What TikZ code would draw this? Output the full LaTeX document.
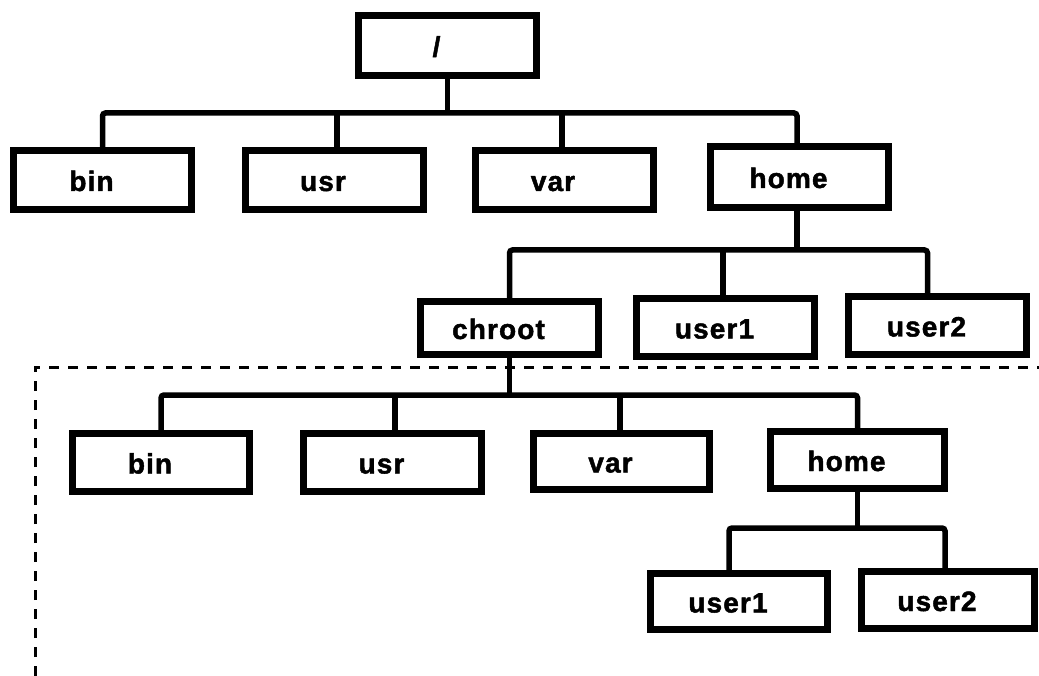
\documentclass[tikz,border=0pt]{standalone}
\usepackage{fontspec}
\setmainfont{Liberation Sans}[LetterSpace=4, BoldFeatures={FakeBold=1.6}]
\usetikzlibrary{calc}
% label text sits a little left of the box centre
\newcommand\dirlabel[1]{#1\kern22pt}
\begin{document}
\begin{tikzpicture}[x=1pt,y=-1pt,
  dirbox/.style={draw, line width=7pt, inner sep=0pt,
    minimum width=178pt, minimum height=59pt,
    font=\bfseries\fontsize{28}{30}\selectfont,
    text height=22pt, text depth=0pt},
  conn/.style={line width=5.5pt, rounded corners=3pt},
  frame/.style={line width=3pt, dash pattern=on 10pt off 9pt}]
\useasboundingbox (0,0) rectangle (1039,676);

% bar heights of the four branchings
\coordinate (bar1) at (0,113);
\coordinate (bar2) at (0,250);
\coordinate (bar3) at (0,395);
\coordinate (bar4) at (0,528);

% top level
\node[dirbox, minimum height=60pt] (root) at (447.5,45.5) {\dirlabel{/}};
\node[dirbox] (bin)  at (102.5,180) {\dirlabel{bin}};
\node[dirbox] (usr)  at (334,180)   {\dirlabel{usr}};
\node[dirbox] (var)  at (564,180)   {\dirlabel{var}};
\node[dirbox, minimum height=61pt] (home) at (799.5,177) {\dirlabel{home}};

% under /home
\node[dirbox, minimum height=53pt] (chroot) at (509.5,328) {\dirlabel{chroot}};
\node[dirbox, minimum height=58pt] (user1) at (725.5,327.5) {\dirlabel{user1}};
\node[dirbox, minimum height=58pt] (user2) at (937.5,325.5) {\dirlabel{user2}};

% inside the chroot
\node[dirbox, minimum width=177pt, minimum height=58pt] (cbin)  at (161,462.5)   {\dirlabel{bin}};
\node[dirbox, minimum height=58pt] (cusr)  at (392.5,462.5) {\dirlabel{usr}};
\node[dirbox, minimum width=176pt, minimum height=56pt] (cvar)  at (621.5,461.5) {\dirlabel{var}};
\node[dirbox, minimum width=174pt, minimum height=57pt] (chome) at (857.5,460)   {\dirlabel{home}};
\node[dirbox, minimum width=177pt, minimum height=56pt] (cuser1) at (739,601.5) {\dirlabel{user1}};
\node[dirbox, minimum width=173pt, minimum height=57pt] (cuser2) at (948,600)   {\dirlabel{user2}};

% connectors: / -> bin usr var home
\draw[conn] (root.south) -- (root.south |- bar1);
\draw[conn] (bin.north) -- (bin.north |- bar1) -- ($(home.north |- bar1)+(-2.5,0)$) -- ($(home.north)+(-2.5,0)$);
\draw[conn] ($(usr.north)+(3,0)$) -- ($(usr.north |- bar1)+(3,0)$);
\draw[conn] ($(var.north)+(-2,0)$) -- ($(var.north |- bar1)+(-2,0)$);

% connectors: home -> chroot user1 user2
\draw[conn] ($(home.south)+(-2.5,0)$) -- ($(home.south |- bar2)+(-2.5,0)$);
\draw[conn] (chroot.north) -- (chroot.north |- bar2) -- ($(user2.north |- bar2)+(-10,0)$) -- ($(user2.north)+(-10,0)$);
\draw[conn] ($(user1.north)+(-2.5,0)$) -- ($(user1.north |- bar2)+(-2.5,0)$);

% connectors: chroot -> bin usr var home
\draw[conn] (chroot.south) -- (chroot.south |- bar3);
\draw[conn] (cbin.north) -- (cbin.north |- bar3) -- (chome.north |- bar3) -- (chome.north);
\draw[conn] ($(cusr.north)+(2.5,0)$) -- ($(cusr.north |- bar3)+(2.5,0)$);
\draw[conn] ($(cvar.north)+(-1.5,0)$) -- ($(cvar.north |- bar3)+(-1.5,0)$);

% connectors: chroot home -> user1 user2
\draw[conn] (chome.south) -- (chome.south |- bar4);
\draw[conn] ($(cuser1.north)+(-10,0)$) -- ($(cuser1.north |- bar4)+(-10,0)$) -- ($(cuser2.north |- bar4)+(-3,0)$) -- ($(cuser2.north)+(-3,0)$);

% dashed border of the chroot area
\coordinate (frameBL) at (35,676);
\coordinate (frameTL) at (35,367);
\coordinate (frameTR) at (1039,367);
\draw[frame] (frameBL) -- (frameTL) -- (frameTR);
\end{tikzpicture}
\end{document}
